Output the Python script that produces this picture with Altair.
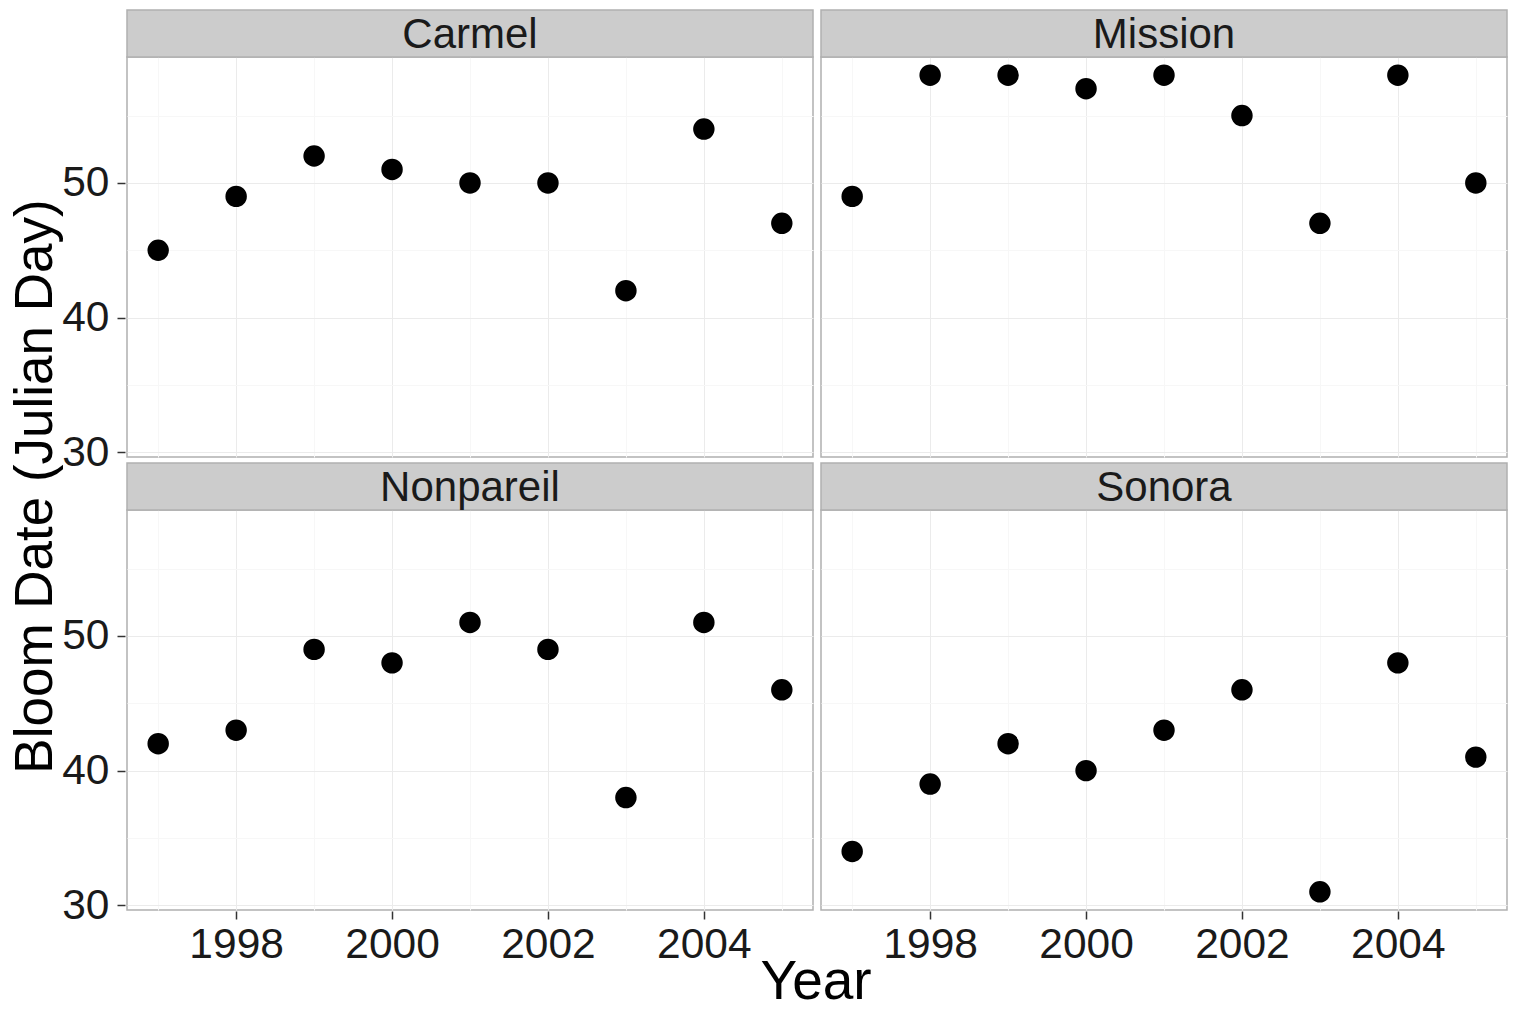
import altair as alt
import pandas as pd

years = [1997, 1998, 1999, 2000, 2001, 2002, 2003, 2004, 2005]
cultivars = ["Carmel", "Mission", "Nonpareil", "Sonora"]
carmel = [45, 49, 52, 51, 50, 50, 42, 54, 47]
mission = [49, 58, 58, 57, 58, 55, 47, 58, 50]
nonpareil = [42, 43, 49, 48, 51, 49, 38, 51, 46]
sonora = [34, 39, 42, 40, 43, 46, 31, 48, 41]

x_ticks = [1997, 1998, 1999, 2000, 2001, 2002, 2003, 2004, 2005]
y_ticks = [30, 35, 40, 45, 50, 55]

rows = []
for name, vals in zip(cultivars, [carmel, mission, nonpareil, sonora]):
    for yr, v in zip(years, vals):
        rows.append({"cultivar": name, "year": yr, "bloom": v})
df = pd.DataFrame(rows)

FONT = "Liberation Sans"
W, H = 686, 400
STRIP = 47

points = alt.Chart().mark_circle(size=460, color="black", opacity=1).encode(
    x=alt.X(
        "year:Q",
        scale=alt.Scale(domain=[1996.6, 2005.4], nice=False, zero=False),
        axis=alt.Axis(
            values=x_ticks,
            title=None,
            format="d",
            labelExpr="datum.value % 2 == 0 ? datum.label : ''",
            gridColor={"condition": {"test": "datum.value % 2 == 0", "value": "#ebebeb"}, "value": "#f7f7f7"},
            tickColor={"condition": {"test": "datum.value % 2 == 0", "value": "#333333"}, "value": "transparent"},
        ),
    ),
    y=alt.Y(
        "bloom:Q",
        scale=alt.Scale(domain=[29.65, 59.35], nice=False, zero=False),
        axis=alt.Axis(
            values=y_ticks,
            title=None,
            labelExpr="datum.value % 10 == 0 ? datum.label : ''",
            gridColor={"condition": {"test": "datum.value % 10 == 0", "value": "#ebebeb"}, "value": "#f7f7f7"},
            tickColor={"condition": {"test": "datum.value % 10 == 0", "value": "#333333"}, "value": "transparent"},
        ),
    ),
)

strip = alt.Chart().mark_rect(fill="#cccccc", stroke="#b0b0b0", strokeWidth=1.5).encode(
    x=alt.value(0), x2=alt.value(W), y=alt.value(-STRIP), y2=alt.value(0)
).transform_filter(alt.datum.year == 1997)

strip_text = alt.Chart().mark_text(
    font=FONT, fontSize=42, color="#1a1a1a", baseline="middle", align="center"
).encode(
    text="cultivar:N", x=alt.value(W / 2), y=alt.value(-STRIP / 2 + 1)
).transform_filter(alt.datum.year == 1997)

hdr = dict(labelColor="transparent", labelFontSize=1, labelPadding=0, titlePadding=0, labelLimit=1)

facet = alt.layer(points, strip, strip_text, data=df).properties(width=W, height=H).facet(
    facet=alt.Facet("cultivar:N", header=alt.Header(**hdr), title=None),
    columns=2,
    spacing={"row": 2, "column": 4},
).properties(
    title=alt.TitleParams(
        "Bloom Date (Julian Day)", orient="left", anchor="middle", fontSize=53,
        font=FONT, fontWeight="normal", color="black", offset=-1,
    )
)

mid = alt.vconcat(facet).properties(
    title=alt.TitleParams(
        "Year", orient="bottom", anchor="middle", fontSize=55, font=FONT,
        fontWeight="normal", color="black", offset=-10, dx=57,
    )
)

chart = alt.vconcat(mid).properties(
    title=alt.TitleParams(
        "Almond Bloom Date By Cultivar in Chico, CA", anchor="middle", fontSize=64,
        font=FONT, fontWeight="normal", color="black", dx=57, offset=0,
    ),
    padding={"top": -65, "left": 1, "right": 0, "bottom": -7},
).configure_view(stroke="#b0b0b0", strokeWidth=1.5).configure_axis(
    domain=False,
    tickSize=8,
    tickWidth=1.5,
    labelFont=FONT,
    labelFontSize=42.5,
    labelColor="#1a1a1a",
    gridWidth=1,
).configure_axisX(labelPadding=4).configure_axisY(labelPadding=8).configure_concat(
    spacing=0
)

chart.save("out.html", embed_options={"renderer": "svg", "actions": False})
